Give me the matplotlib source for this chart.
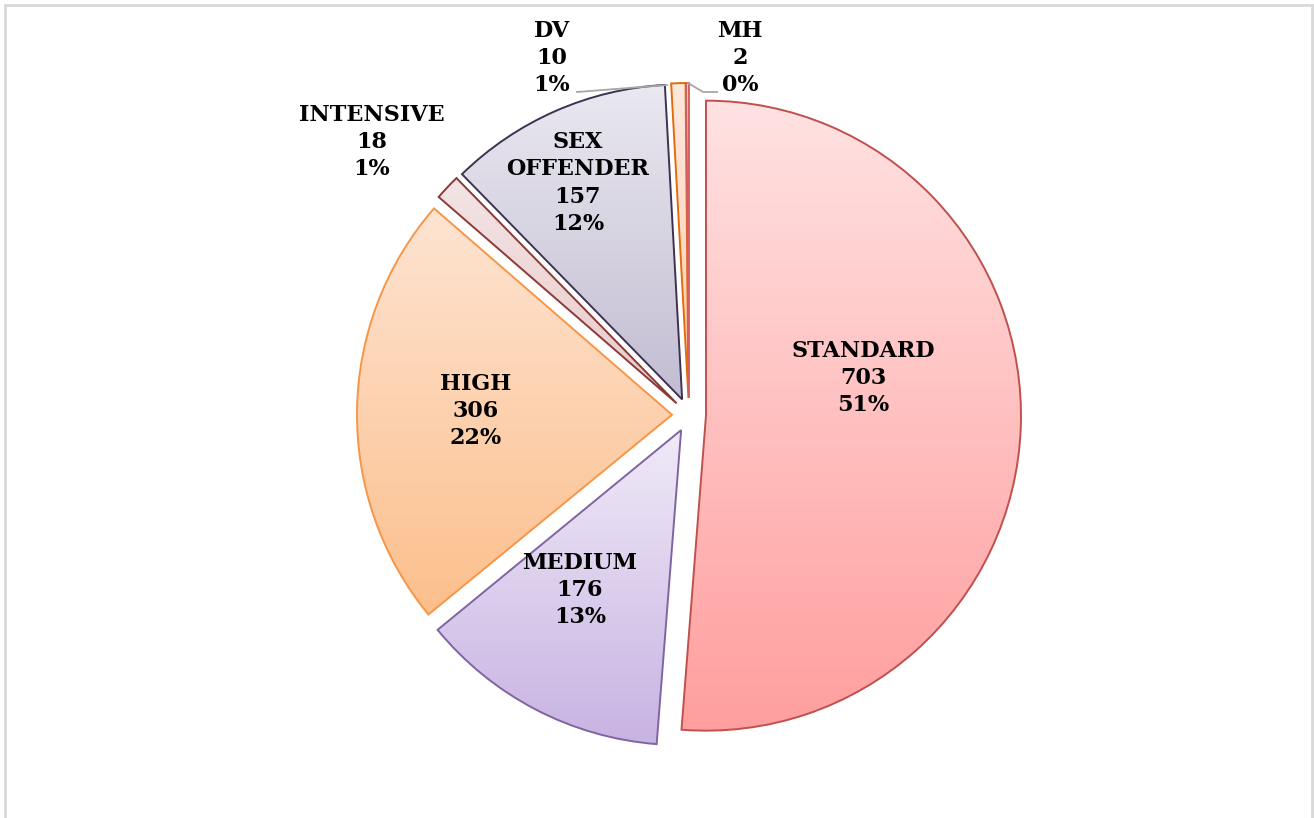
import numpy as np
import matplotlib
matplotlib.use("Agg")
import matplotlib.pyplot as plt
from matplotlib.colors import LinearSegmentedColormap
from matplotlib.lines import Line2D

categories = ["STANDARD", "MEDIUM", "HIGH", "INTENSIVE", "SEX\nOFFENDER", "DV", "MH"]
values = [703, 176, 306, 18, 157, 10, 2]
percent_labels = ["51%", "13%", "22%", "1%", "12%", "1%", "0%"]

top_colors = ["#FFE2E2", "#F0EAF8", "#FEE4D2", "#F4E4E4", "#EAE8F0", "#FEE8DC", "#FCE0E0"]
bottom_colors = ["#FF9E9E", "#C8B3E2", "#FCBF8C", "#E8CACA", "#C2BDD2", "#FCCDB4", "#F5B5B5"]
edge_colors = ["#C0504D", "#8064A2", "#F79646", "#8C3A38", "#3F3151", "#E36C0A", "#D0605C"]

W, H = 1314, 818
fig = plt.figure(figsize=(W / 100, H / 100), dpi=100)
ax = fig.add_axes([0, 0, 1, 1])
ax.set_xlim(0, W)
ax.set_ylim(0, H)
ax.set_aspect("equal")
ax.axis("off")

cx, cy = 689, H - 415
radius = 315
wedges, _ = ax.pie(values, radius=radius, center=(cx, cy), startangle=90,
                   counterclock=False, explode=[17] * len(values),
                   wedgeprops=dict(linewidth=1.4), frame=False)

for w, tc, bc, ec in zip(wedges, top_colors, bottom_colors, edge_colors):
    w.set_facecolor("none")
    w.set_edgecolor(ec)
    w.set_zorder(3)
    verts = w.get_patch_transform().transform(w.get_path().vertices)
    x0, x1 = verts[:, 0].min(), verts[:, 0].max()
    y0, y1 = verts[:, 1].min(), verts[:, 1].max()
    cmap = LinearSegmentedColormap.from_list("g", [bc, tc])
    grad = np.linspace(0, 1, 256).reshape(-1, 1)
    im = ax.imshow(grad, extent=(x0, x1, y0, y1), origin="lower", cmap=cmap,
                   aspect="auto", zorder=2, interpolation="bilinear")
    im.set_clip_path(w)

ax.set_xlim(0, W)
ax.set_ylim(0, H)

label_pos = [(863, 378), (580, 590), (476, 411), (372, 142), (578, 183), (552, 58), (740, 58)]
for cat, v, p, (lx, ly) in zip(categories, values, percent_labels, label_pos):
    ax.text(lx, H - ly, f"{cat}\n{v}\n{p}", ha="center", va="center",
            fontsize=16, fontweight="bold", family="DejaVu Serif",
            linespacing=1.3, zorder=5, color="black")

# leader lines
lc = "#A6A6A6"
ax.plot([577, 667], [H - 92, H - 85], color=lc, lw=1.3, zorder=4)
ax.plot([688, 703, 717], [H - 83, H - 92, H - 92], color=lc, lw=1.3, zorder=4)

# frame border
bc_ = "#D9D9D9"
fig.add_artist(Line2D([4.5 / W, 4.5 / W], [0, 1 - 4.5 / H], transform=fig.transFigure, color=bc_, lw=2))
fig.add_artist(Line2D([4.5 / W, 1 - 2 / W], [1 - 4.5 / H, 1 - 4.5 / H], transform=fig.transFigure, color=bc_, lw=2))
fig.add_artist(Line2D([1 - 2 / W, 1 - 2 / W], [0, 1 - 4.5 / H], transform=fig.transFigure, color=bc_, lw=2))

fig.savefig("out.png", dpi=100, facecolor="white")
